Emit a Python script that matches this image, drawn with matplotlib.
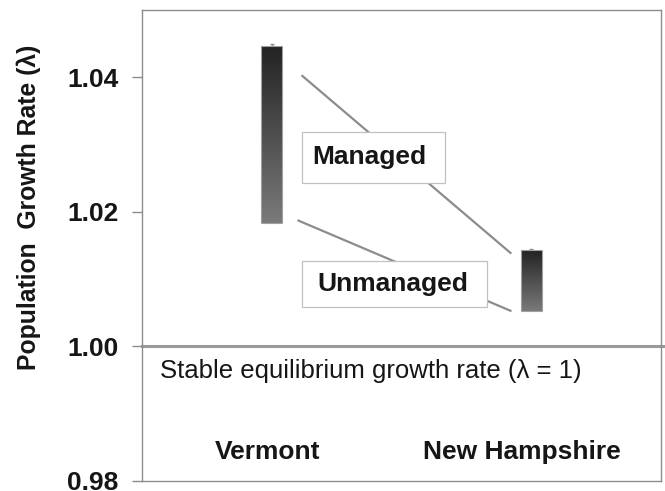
import matplotlib.pyplot as plt
import numpy as np
from matplotlib.colors import LinearSegmentedColormap
from matplotlib.patches import Rectangle

plt.rcParams["font.family"] = ["Liberation Sans", "DejaVu Sans"]

# Data (population growth rate, lambda)
sites = ["Vermont", "New Hampshire"]
unmanaged = [1.0183, 1.0053]
managed = [1.0446, 1.0143]
errUpper = [0.0003, 0.0002]
yTicks = [0.98, 1.00, 1.02, 1.04]

grey = "#8c8c8c"
ink = "#161616"
barWidth = 0.08
gradient = LinearSegmentedColormap.from_list("bar", ["#7a7a7a", "#232323"])
ramp = np.linspace(0, 1, 256).reshape(-1, 1)

fig = plt.figure(figsize=(6.65, 4.91), dpi=100)
ax = fig.add_axes([142 / 665, 10 / 491, 519 / 665, 471 / 491])

# floating bars with a vertical gradient
for i in range(len(sites)):
    x0 = i - barWidth / 2
    ax.imshow(ramp, cmap=gradient, origin="lower", aspect="auto",
              extent=(x0, x0 + barWidth, unmanaged[i], managed[i]), zorder=3)
    ax.add_patch(Rectangle((x0, unmanaged[i]), barWidth, managed[i] - unmanaged[i],
                           fill=False, edgecolor="#a0a0a0", lw=0.8, zorder=4))
    ax.errorbar(i, managed[i], yerr=[[0], [errUpper[i]]], fmt="none",
                ecolor="#909090", elinewidth=0.8, capsize=1.5, zorder=2)

# leader lines from the labels to the bars
ax.plot([0.118, 0.92], [managed[0] - 0.0044, managed[1] - 0.0004],
        color=grey, lw=1.6, zorder=1)
ax.plot([0.103, 0.92], [unmanaged[0] + 0.0004, unmanaged[1]],
        color=grey, lw=1.6, zorder=1)

# label boxes
ax.add_patch(Rectangle((0.118, 1.0243), 0.549, 0.0076, facecolor="white",
                       edgecolor="#c0c0c0", lw=0.9, zorder=5))
ax.text(0.156, 1.0271, "Managed", fontsize=19, fontweight="bold",
        color=ink, va="baseline", zorder=6)
ax.add_patch(Rectangle((0.118, 1.0058), 0.71, 0.0069, facecolor="white",
                       edgecolor="#c0c0c0", lw=0.9, zorder=5))
ax.text(0.176, 1.0082, "Unmanaged", fontsize=19, fontweight="bold",
        color=ink, va="baseline", zorder=6)

# stable equilibrium line
ax.plot([-0.5, 1.515], [1.0, 1.0], color="#9a9a9a", lw=2.2, clip_on=False, zorder=2)
ax.text(-0.43, 0.9963, "Stable equilibrium growth rate (\u03bb = 1)",
        fontsize=18.5, color=ink, va="center")

# site names inside the plot
for xPos, name in zip([-0.015, 0.962], sites):
    ax.text(xPos, 0.9843, name, fontsize=19, fontweight="bold",
            color=ink, ha="center", va="center")

ax.set_xlim(-0.5, 1.5)
ax.set_ylim(0.98, 1.05)
ax.set_xticks([])
ax.set_yticks(yTicks)
ax.set_yticklabels([f"{v:.2f}" for v in yTicks], fontsize=19,
                   fontweight="bold", color=ink)
ax.tick_params(axis="y", direction="out", length=7, width=1, color=grey, pad=10)
for spine in ax.spines.values():
    spine.set_color(grey)
    spine.set_linewidth(1)

fig.text(29 / 665, 1 - 207 / 491, "Population  Growth Rate (\u03bb)", rotation=90,
         fontsize=17.8, fontweight="bold", color=ink, ha="center", va="center")

fig.savefig("out.png", dpi=100)
